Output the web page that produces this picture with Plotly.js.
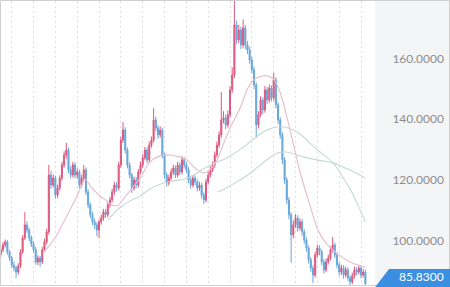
<!DOCTYPE html>
<html>
<head>
<meta charset="utf-8">
<script src="https://cdn.plot.ly/plotly-3.0.1.min.js"></script>
<style>html,body{margin:0;padding:0;background:#fff;}#chart{width:450px;height:287px;}</style>
</head>
<body>
<div id="chart"></div>
<script>
// OHLC values (one entry per candle)
const openP = [95.5,97.0,98.6,99.6,96.3,94.3,92.0,91.0,89.7,91.7,
96.3,100.9,105.2,103.5,100.9,98.9,97.0,93.0,94.3,93.0,
97.0,99.6,102.9,121.6,118.3,120.6,115.0,117.3,120.6,124.9,
128.2,129.8,123.3,121.6,124.9,121.6,122.6,118.3,120.6,123.3,
116.0,111.8,108.5,106.2,105.2,103.5,106.2,107.5,109.5,108.5,
111.8,113.4,116.0,118.3,117.3,124.9,133.1,136.4,129.8,124.9,
121.6,117.3,120.0,118.3,122.6,124.9,127.2,129.8,126.6,131.5,
133.1,139.7,137.1,134.8,136.4,128.2,121.6,119.0,120.6,122.6,
123.9,121.6,124.9,122.6,126.6,124.9,123.3,120.0,118.3,120.6,
119.3,117.3,118.3,115.0,113.4,119.3,121.6,123.3,124.9,128.2,
131.5,134.8,139.7,140.4,138.1,141.4,149.6,154.5,171.0,166.0,
169.3,164.4,170.0,164.4,162.7,159.4,156.2,151.2,138.1,141.4,
146.3,143.0,149.6,146.3,150.2,147.0,152.9,144.7,139.7,134.8,
126.6,120.0,113.4,108.5,101.9,105.2,107.5,104.2,106.2,102.9,
100.2,97.6,93.7,91.0,88.7,95.3,97.6,96.3,93.0,90.4,
93.0,94.3,97.0,98.6,95.3,92.0,89.7,91.0,88.7,90.4,
87.8,86.4,88.4,90.4,89.7,91.0,88.7,89.7];
const highP = [98.0,99.5,100.4,100.2,97.0,95.0,93.1,91.8,92.6,97.2,
101.8,109.4,106.4,104.3,101.7,99.8,97.9,95.2,95.0,97.9,
100.6,103.9,124.9,123.0,121.8,121.4,118.4,121.5,126.0,129.4,
132.2,130.6,124.5,125.9,125.8,123.8,123.4,121.7,124.9,124.1,
116.9,112.6,109.5,107.3,106.1,107.0,108.6,110.5,110.4,112.7,
114.5,117.1,119.4,119.2,125.9,134.2,139.0,137.3,130.7,125.8,
122.4,121.1,121.0,123.6,126.0,128.4,130.9,130.7,132.6,134.3,
143.6,140.8,138.0,137.6,137.2,129.0,122.5,121.7,123.7,125.0,
124.8,126.0,125.8,127.8,127.5,125.9,124.2,120.9,121.6,121.5,
120.2,119.4,119.1,115.9,120.4,122.7,124.4,126.0,129.3,132.6,
136.0,148.9,142.6,141.5,142.8,150.8,157.0,182.0,172.4,171.0,
170.4,172.8,171.0,165.6,163.8,160.5,157.3,152.0,142.6,147.5,
147.2,150.9,150.6,151.4,151.1,155.2,153.8,145.6,140.6,135.7,
127.5,120.9,114.3,109.4,106.6,108.7,108.4,107.3,107.1,103.8,
101.1,98.4,94.6,91.9,96.4,98.7,98.5,97.1,93.9,94.1,
95.4,98.1,101.2,99.4,96.2,92.9,92.1,91.9,91.5,91.2,
88.6,89.5,91.5,91.3,92.1,91.8,90.8,90.5];
const lowP = [94.6,96.2,97.8,95.4,93.4,91.0,89.9,87.8,88.9,91.0,
95.6,100.2,102.6,99.8,97.9,96.1,92.1,92.0,91.4,92.3,
96.4,98.8,102.0,117.0,117.5,113.8,114.1,116.5,119.8,124.0,
127.0,122.2,120.5,120.8,120.6,120.4,117.2,117.6,119.8,115.0,
110.7,107.4,105.2,103.8,101.5,100.9,105.3,106.6,107.5,107.8,
110.9,112.6,115.1,116.2,116.5,124.0,132.2,128.7,123.8,120.5,
115.7,116.5,117.2,117.5,121.8,124.0,126.4,125.5,125.8,130.6,
132.3,136.0,133.6,133.9,127.1,120.4,117.8,118.1,119.7,121.7,
120.6,120.8,121.5,121.8,123.8,122.2,118.9,117.1,117.5,118.2,
116.2,116.4,113.9,112.1,112.6,118.5,120.8,122.5,124.0,127.3,
130.6,133.9,138.6,136.7,137.2,140.5,148.6,153.5,164.6,165.0,
163.0,163.5,163.0,161.4,158.2,155.0,149.8,133.8,136.9,140.6,
141.6,142.1,145.0,145.4,145.8,146.1,143.5,138.4,133.5,125.2,
118.7,112.0,107.0,92.7,100.8,104.3,103.0,103.3,101.7,99.0,
96.4,92.5,89.8,86.1,87.9,94.5,95.2,91.9,89.2,89.6,
92.2,93.5,96.1,94.2,90.9,88.5,88.8,87.5,87.9,86.7,
85.0,85.7,87.6,88.6,88.9,87.6,87.9,85.2];
const closeP = [97.0,98.6,99.6,96.3,94.3,92.0,91.0,89.7,91.7,96.3,
100.9,105.2,103.5,100.9,98.9,97.0,93.0,94.3,93.0,97.0,
99.6,102.9,121.6,118.3,120.6,115.0,117.3,120.6,124.9,128.2,
129.8,123.3,121.6,124.9,121.6,122.6,118.3,120.6,123.3,116.0,
111.8,108.5,106.2,105.2,103.5,106.2,107.5,109.5,108.5,111.8,
113.4,116.0,118.3,117.3,124.9,133.1,136.4,129.8,124.9,121.6,
117.3,120.0,118.3,122.6,124.9,127.2,129.8,126.6,131.5,133.1,
139.7,137.1,134.8,136.4,128.2,121.6,119.0,120.6,122.6,123.9,
121.6,124.9,122.6,126.6,124.9,123.3,120.0,118.3,120.6,119.3,
117.3,118.3,115.0,113.4,119.3,121.6,123.3,124.9,128.2,131.5,
134.8,139.7,140.4,138.1,141.4,149.6,154.5,171.0,166.0,169.3,
164.4,170.0,164.4,162.7,159.4,156.2,151.2,138.1,141.4,146.3,
143.0,149.6,146.3,150.2,147.0,152.9,144.7,139.7,134.8,126.6,
120.0,113.4,108.5,101.9,105.2,107.5,104.2,106.2,102.9,100.2,
97.6,93.7,91.0,88.7,95.3,97.6,96.3,93.0,90.4,93.0,
94.3,97.0,98.6,95.3,92.0,89.7,91.0,88.7,90.4,87.8,
86.4,88.4,90.4,89.7,91.0,88.7,89.7,85.83];

// Moving-average lines (candle position, value)
const ma20X = [19.3,22.5,25.7,28.5,31.7,34.9,38.6,41.8,45.4,48.6,50.9,53.7,56.9,60.6,63.8,68.3,72.9,77.5,82.1,85.3,89.0,92.6,95.8,99.0,101.8,105.0,109.6,113.2,116.4,119.7,122.4,125.2,127.9,132.5,137.1,141.6,145.3,148.5,152.2,156.3,160.0,163.6,167.0];
const ma20Y = [96.0,98.6,101.9,105.8,110.1,114.7,120.0,117.3,114.7,113.1,111.7,111.7,114.4,117.7,120.6,125.9,127.9,128.2,127.5,126.5,123.9,122.3,123.3,126.5,131.5,137.1,143.6,150.2,153.2,154.2,154.2,152.9,148.9,136.4,122.6,111.7,103.5,99.6,96.9,94.6,93.0,92.0,91.3];
const ma50X = [49.1,52.3,55.5,59.2,63.8,68.3,72.9,78.4,84.4,89.0,93.5,98.1,102.7,107.3,111.9,116.4,121.0,126.5,131.6,137.1,141.6,146.2,152.2,156.3,160.0,163.6,167.0];
const ma50Y = [106.8,109.4,111.4,113.1,114.7,117.0,118.6,119.6,120.3,121.9,123.9,125.6,126.9,128.9,131.2,133.8,136.1,137.4,137.1,135.1,132.1,129.2,125.6,121.3,117.0,111.7,106.2];
const ma100X = [99.5,104.1,108.7,113.2,117.8,122.4,127.0,130.6,134.3,138.9,145.3,152.2,157.7,162.7,167.0];
const ma100Y = [116.0,117.7,119.6,121.6,124.3,126.9,128.9,129.2,128.5,127.5,126.5,125.6,123.9,122.3,120.6];

const yTicks = [100, 120, 140, 160];
const lastPriceLabel = '85.8300';

const idx = closeP.map((_, i) => i);

const traces = [
  {
    type: 'candlestick', x: idx, open: openP, high: highP, low: lowP, close: closeP,
    increasing: {line: {color: '#d8436f', width: 1}, fillcolor: '#d8436f'},
    decreasing: {line: {color: '#559bd4', width: 1}, fillcolor: '#559bd4'},
    whiskerwidth: 0, opacity: 0.88, showlegend: false, hoverinfo: 'skip'
  },
  {type: 'scatter', mode: 'lines', x: ma20X, y: ma20Y, line: {color: '#e6bccd', width: 1.1, shape: 'spline'}, showlegend: false, hoverinfo: 'skip'},
  {type: 'scatter', mode: 'lines', x: ma50X, y: ma50Y, line: {color: '#c2dad6', width: 1.1, shape: 'spline'}, showlegend: false, hoverinfo: 'skip'},
  {type: 'scatter', mode: 'lines', x: ma100X, y: ma100Y, line: {color: '#c2dad6', width: 1.1, shape: 'spline'}, showlegend: false, hoverinfo: 'skip'}
];

const layout = {
  width: 450, height: 287,
  margin: {l: 0, r: 75, t: 1, b: 2, pad: 0},
  paper_bgcolor: '#ffffff', plot_bgcolor: '#ffffff',
  showlegend: false,
  xaxis: {
    range: [-0.37, 171.41], showgrid: true, gridcolor: '#e0e0e0', griddash: '2px,3px', gridwidth: 1,
    tick0: 5, dtick: 10, showticklabels: false, zeroline: false, showline: false, ticks: '',
    rangeslider: {visible: false}, fixedrange: true
  },
  yaxis: {
    side: 'right', range: [85.43, 178.85], tickvals: yTicks, tickformat: '.4f',
    showgrid: false, zeroline: false, showline: false,
    ticks: 'outside', ticklen: 14, tickcolor: 'rgba(0,0,0,0)',
    tickfont: {family: 'Lato, "Open Sans", sans-serif', size: 12, color: '#8e8e8e'}, fixedrange: true
  },
  shapes: [
    {type: 'rect', xref: 'paper', yref: 'paper', x0: 1, x1: 1.21, y0: -0.02, y1: 1.02, fillcolor: '#f4f5f7', line: {width: 0}, layer: 'below'},
    {type: 'rect', xref: 'paper', yref: 'paper', x0: 0.0013, x1: 1.1987, y0: -0.0018, y1: 1.0018, fillcolor: 'rgba(0,0,0,0)', line: {color: '#cfcfcf', width: 1}, layer: 'above'},
    {type: 'path', xref: 'paper', yref: 'paper', path: 'M 1,-0.008 L 1.0373,0.0563 L 1.21,0.0563 L 1.21,-0.008 Z', fillcolor: '#3b8fe2', line: {width: 0}, layer: 'above'}
  ],
  annotations: [
    {xref: 'paper', yref: 'paper', x: 1.1227, y: 0.03, text: lastPriceLabel, showarrow: false,
     xanchor: 'center', yanchor: 'middle', font: {family: 'Lato, "Open Sans", sans-serif', size: 12, color: '#ffffff'}}
  ]
};

Plotly.newPlot('chart', traces, layout, {displayModeBar: false, staticPlot: true});
</script>
</body>
</html>
